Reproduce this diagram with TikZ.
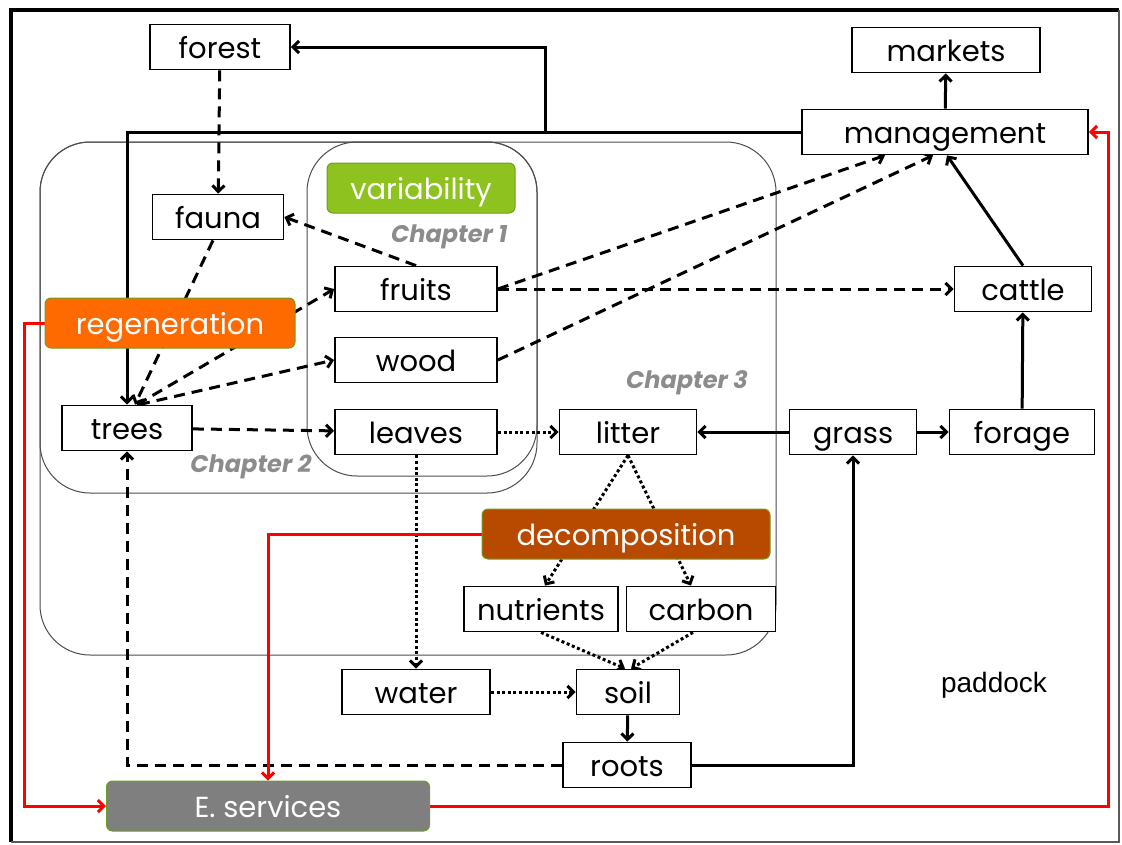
\documentclass[tikz,border=0pt]{standalone}
\usepackage{fontspec}
\setmainfont{Poppins}
\newfontfamily\arialfont{Liberation Sans}
\usetikzlibrary{arrows.meta}
\definecolor{varigreen}{HTML}{8DC21F}
\definecolor{regorange}{HTML}{FF6A00}
\definecolor{decbrown}{HTML}{B84A00}
\definecolor{svcgray}{HTML}{7F7F7F}
\definecolor{rimgreen}{HTML}{6E9E1E}
\pgfdeclarelayer{bg}
\pgfsetlayers{bg,main}

\begin{document}
\begin{tikzpicture}[x=1pt,y=-1pt,>={Straight Barb[length=6pt,width=12pt]},
  box/.style={draw,line width=1.8pt,fill=white,minimum height=45pt,inner sep=0pt,text height=22pt,text depth=0pt,font=\fontsize{29}{32}\selectfont},
  lbl/.style 2 args={draw=rimgreen,line width=1pt,fill=#1,text=white,minimum width=#2pt,minimum height=50pt,rounded corners=6pt,inner sep=0pt,text height=22pt,text depth=0pt,font=\fontsize{29}{32}\selectfont},
  chap/.style={text=gray!90,font=\fontsize{24}{28}\selectfont\bfseries\itshape},
  cnt/.style={draw=gray!60!black,line width=1pt,rounded corners=50pt},
  sol/.style={line width=3pt,->},
  dsh/.style={sol,dash pattern=on 11pt off 7pt},
  dot/.style={sol,dash pattern=on 3pt off 2.6pt},
  svc/.style={red,line width=3pt,->}]
\useasboundingbox (0,0) rectangle (1122,844);
% plain boxes
\foreach \n/\x/\y/\w in %
{forest/220/47/140,markets/946/50/188,management/945/132/286,fauna/218/217/131,
 fruits/416/289/162,wood/416/360/162,cattle/1023/289/137,trees/127/428/130,
 leaves/416/432/162,litter/628/432/137,grass/853/432/127,forage/1022/432/145,
 nutrients/541/609/154,carbon/701/609/149,water/416/692/148,soil/628/692/103,
 roots/627/765/128} {
   \node[box,minimum width=\w pt] (\n) at (\x,\y) {\n};
}
% coloured labels
\node[lbl={varigreen}{188}] (variability) at (421,188) {variability};
\node[lbl={regorange}{250}] (regeneration) at (170,323) {regeneration};
\node[lbl={decbrown}{288}] (decomposition) at (626,534) {decomposition};
\node[lbl={svcgray}{323}] (services) at (268,806) {E. services};
\node[chap,anchor=east] (ch1) at (511,237) {Chapter 1};
\node[chap] (ch2) at (251,467) {Chapter 2};
\node[chap] (ch3) at (687,383) {Chapter 3};
\node[font=\arialfont\fontsize{28}{32}\selectfont] (paddock) at (994,685) {paddock};
\coordinate (jn) at (545,132);
\begin{pgfonlayer}{bg}
\draw[line width=4pt] (11,842) -- (11,10) -- (1119,10);
\draw[gray!70!black,line width=1.2pt] (1119,10) -- (1119,842) -- (11,842);
\draw[cnt] (40,142) rectangle (776,655);
\draw[cnt] (40,142) rectangle (537,493);
\draw[cnt] (307,142) rectangle (537,476);
% solid links
\draw[sol] (management.west) -| (trees.north);
\draw[sol] (jn) |- (forest.east);
\draw[sol] (management) -- (markets);
\draw[sol] (cattle.north) -- ([xshift=2pt]management.south);
\draw[sol] (forage) -- (cattle);
\draw[sol] (grass) -- (forage);
\draw[sol] (grass) -- (litter);
\draw[sol] (soil) -- (roots);
\draw[sol] (roots.east) -| (grass.south);
% dashed links
\draw[dsh] (forest) -- (fauna);
\draw[dsh] (fruits.north) -- (fauna.east);
\draw[dsh] ([xshift=-5pt]fauna.south) -- ([xshift=8pt]trees.north);
\draw[dsh] ([xshift=10pt]trees.north) -- (fruits.west);
\draw[dsh] ([xshift=12pt]trees.north) -- (wood.west);
\draw[dsh] (trees) -- (leaves);
\draw[dsh] (fruits.east) -- ([xshift=-60pt]management.south);
\draw[dsh] (wood.east) -- ([xshift=-12pt]management.south);
\draw[dsh] (fruits) -- (cattle);
\draw[dsh] (roots.west) -| (trees.south);
% dotted links
\draw[dot] (leaves) -- (litter);
\draw[dot] (leaves) -- (water);
\draw[dot] (water) -- (soil);
\draw[dot] (litter.south) -- ([xshift=4pt]nutrients.north);
\draw[dot] (litter.south) -- ([xshift=-10pt]carbon.north);
\draw[dot] (nutrients.south) -- ([xshift=-3pt]soil.north);
\draw[dot] ([xshift=-8pt]carbon.south) -- ([xshift=3pt]soil.north);
% services
\draw[svc] (regeneration.west) -- ++(-20,0) |- (services.west);
\draw[svc] (decomposition.west) -| (services.north);
\draw[svc] (services.east) -- ++(678,0) |- (management.east);
\end{pgfonlayer}
\end{tikzpicture}
\end{document}
